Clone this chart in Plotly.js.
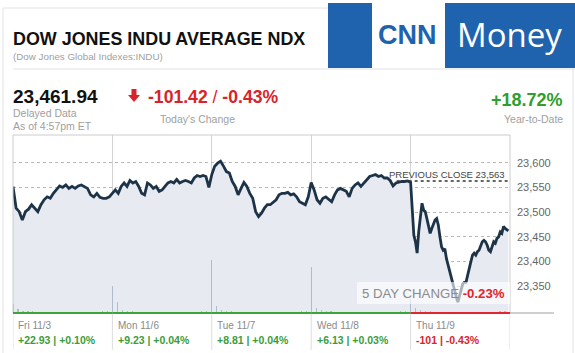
<!DOCTYPE html>
<html>
<head>
<meta charset="utf-8">
<script src="https://cdn.plot.ly/plotly-3.0.1.min.js"></script>
<style>
  html, body { margin: 0; padding: 0; background: #ffffff; }
  #chart { width: 575px; height: 353px; }
</style>
</head>
<body>
<div id="chart"></div>
<script>
// ---------------- DATA ----------------
const days = ['Fri 11/3', 'Mon 11/6', 'Tue 11/7', 'Wed 11/8', 'Thu 11/9'];
const dayChange = ['+22.93 | +0.10%', '+9.23 | +0.04%', '+8.81 | +0.04%', '+6.13 | +0.03%', '-101 | -0.43%'];

const priceFri = [23552, 23508, 23501, 23484, 23501, 23506, 23515, 23508, 23501, 23515, 23525, 23531, 23528, 23538, 23546, 23553,
  23550, 23555, 23548, 23552, 23548, 23553, 23555, 23552, 23548, 23535, 23531, 23538, 23530, 23528, 23528, 23531];
const priceMon = [23539, 23545, 23538, 23552, 23559, 23552, 23564, 23559, 23562, 23552, 23538, 23535, 23559, 23555, 23548, 23552,
  23542, 23545, 23552, 23559, 23562, 23559, 23566, 23559, 23562, 23564, 23562, 23559, 23569, 23574, 23572, 23574, 23572, 23550];
const priceTue = [23576, 23593, 23599, 23603, 23593, 23582, 23579, 23562, 23552, 23535, 23548, 23560, 23552, 23538, 23528, 23501,
  23491, 23498, 23508, 23515, 23515, 23521, 23525, 23535, 23538, 23538, 23540, 23535, 23537, 23531, 23521, 23518, 23515, 23531];
const priceWed = [23560, 23545, 23525, 23518, 23528, 23531, 23525, 23521, 23535, 23545, 23548, 23545, 23542, 23531, 23548, 23555,
  23559, 23552, 23559, 23566, 23572, 23574, 23576, 23572, 23574, 23569, 23569, 23564, 23553, 23559, 23561, 23562, 23562, 23563];
const priceThu = [23560, 23494, 23453, 23440, 23417, 23461, 23494, 23518, 23504, 23501, 23487, 23471, 23457, 23467, 23474, 23484,
  23487, 23474, 23450, 23430, 23423, 23426, 23406, 23393, 23379, 23362, 23349, 23338, 23329, 23318, 23331, 23341, 23355, 23358,
  23358, 23372, 23389, 23400, 23413, 23417, 23413, 23420, 23423, 23433, 23440, 23443, 23440, 23433, 23423, 23420, 23430, 23440,
  23437, 23447, 23450, 23460, 23457, 23471, 23467, 23464, 23462];

const volFri = [5, 2, 1, 1, 1, 0.8, 0.8, 0.8, 0.8, 0.8, 0.8, 0.8, 0.8, 0.8, 0.8, 0.8, 0.8, 0.8, 1, 1.2];
const volMon = [15, 6, 1.5, 1, 1, 0.8, 0.8, 0.8, 0.8, 0.8, 0.8, 0.8, 0.8, 0.8, 0.8, 0.8, 0.8, 0.8, 1, 1.2];
const volTue = [30, 4, 1.5, 1, 1, 0.8, 0.8, 0.8, 0.8, 0.8, 0.8, 0.8, 0.8, 0.8, 0.8, 0.8, 0.8, 0.8, 1, 1.2];
const volWed = [26, 3, 1.5, 1, 1, 0.8, 0.8, 0.8, 0.8, 0.8, 0.8, 0.8, 0.8, 0.8, 0.8, 0.8, 0.8, 0.8, 1, 1.2];
const volThu = [8, 3, 1.5, 1, 1, 0.8, 0.8, 0.8, 0.8, 0.8, 0.8, 0.8, 0.8, 0.8, 0.8, 0.8, 0.8, 0.8, 1, 1.2];

const prevClose = 23563;
const yTicks = [23350, 23400, 23450, 23500, 23550, 23600];

// ---------------- BUILD ----------------
const W = 575, H = 353;
const px = v => v / W;
const py = v => 1 - v / H;
const FONT = 'Liberation Sans, Arial, Helvetica, sans-serif';
const GREEN = '#2e9e2e', RED = '#d9232a', GRAY = '#9a9a9a', BLUE = '#1f63ae';

const priceDays = [priceFri, priceMon, priceTue, priceWed, priceThu];
const volDays = [volFri, volMon, volTue, volWed, volThu];

const px_ = [], py_ = [];
priceDays.forEach((arr, d) => arr.forEach((v, i) => { px_.push(d + i / arr.length); py_.push(v); }));
const vx = [], vy = [];
volDays.forEach((arr, d) => arr.forEach((v, i) => { vx.push(d + i / arr.length); vy.push(v); }));

const traces = [
  {
    type: 'scatter', mode: 'lines', x: px_, y: py_,
    line: { color: '#1d3347', width: 2.8 },
    fill: 'tozeroy', fillcolor: '#e7ebf1',
    hoverinfo: 'skip'
  },
  {
    type: 'bar', x: vx, y: vy, yaxis: 'y2', width: 0.012,
    marker: { color: '#aebccb', line: { width: 0 } },
    hoverinfo: 'skip'
  }
];

const shapes = [];
const annotations = [];

// outer card
shapes.push({ type: 'rect', xref: 'paper', yref: 'paper', x0: px(3), x1: px(573), y0: -0.05, y1: py(8),
  line: { color: '#e2e2e2', width: 1 }, fillcolor: 'rgba(0,0,0,0)', layer: 'below' });
// header separator
shapes.push({ type: 'line', xref: 'paper', yref: 'paper', x0: px(13), x1: px(575), y0: py(69), y1: py(69),
  line: { color: '#e2e2e2', width: 1 } });
// logo blocks
shapes.push({ type: 'rect', xref: 'paper', yref: 'paper', x0: px(328), x1: px(372), y0: py(68), y1: py(3),
  fillcolor: BLUE, line: { width: 0 } });
shapes.push({ type: 'rect', xref: 'paper', yref: 'paper', x0: px(372), x1: px(445), y0: py(68), y1: py(3),
  fillcolor: '#ffffff', line: { width: 0 } });
shapes.push({ type: 'rect', xref: 'paper', yref: 'paper', x0: px(445), x1: px(575), y0: py(68), y1: py(3),
  fillcolor: BLUE, line: { width: 0 } });
// red down arrow
shapes.push({ type: 'path', xref: 'paper', yref: 'paper',
  path: `M ${px(131.5)} ${py(89)} L ${px(136.5)} ${py(89)} L ${px(136.5)} ${py(95)} L ${px(140)} ${py(95)} L ${px(134)} ${py(102)} L ${px(128)} ${py(95)} L ${px(131.5)} ${py(95)} Z`,
  fillcolor: RED, line: { width: 0 } });

// plot frame
shapes.push({ type: 'rect', xref: 'x domain', yref: 'y domain', x0: 0, x1: 1, y0: 0, y1: 1,
  line: { color: '#cccccc', width: 1 }, fillcolor: 'rgba(0,0,0,0)', layer: 'above' });
// bottom day separators
for (let d = 0; d <= days.length; d++) {
  shapes.push({ type: 'line', xref: 'x', yref: 'paper', x0: d, x1: d, y0: py(313), y1: py(350),
    line: { color: '#dddddd', width: 1 } });
}
// gray baseline extension
shapes.push({ type: 'line', xref: 'paper', yref: 'paper', x0: px(510), x1: px(554), y0: py(313), y1: py(313),
  line: { color: '#a0a0a0', width: 1 }, layer: 'above' });
// green/red day baseline
days.forEach((d, i) => {
  const up = !dayChange[i].startsWith('-');
  shapes.push({ type: 'line', xref: 'x', yref: 'paper', x0: i, x1: i + 1, y0: py(313), y1: py(313),
    line: { color: up ? '#3aa63a' : '#e3262c', width: 2 }, layer: 'above' });
});
// previous close
shapes.push({ type: 'line', xref: 'x', yref: 'y', x0: 3.86, x1: 5, y0: prevClose, y1: prevClose,
  line: { color: '#333333', width: 1.3, dash: 'dot' }, layer: 'above' });
// 5 day change box
shapes.push({ type: 'rect', xref: 'paper', yref: 'paper', x0: px(357), x1: px(510), y0: py(304), y1: py(282),
  fillcolor: 'rgba(255,255,255,0.62)', line: { width: 0 }, layer: 'above' });

function ann(text, x, y, opts) {
  annotations.push(Object.assign({ text, x: px(x), y: py(y), xref: 'paper', yref: 'paper', showarrow: false,
    xanchor: 'left', yanchor: 'middle', borderpad: 0,
    font: { family: FONT, size: 11, color: GRAY } }, opts || {}));
}
ann('<b>DOW JONES INDU AVERAGE NDX</b>', 12, 39, { font: { family: FONT, size: 17.9, color: '#111111' } });
ann('(Dow Jones Global Indexes:INDU)', 12, 57, { font: { family: FONT, size: 9.8, color: '#a0a0a0' } });
ann('<b>23,461.94</b>', 12, 96, { font: { family: FONT, size: 19, color: '#111111' } });
ann('Delayed Data', 12, 113, { font: { family: FONT, size: 10.5, color: '#a0a0a0' } });
ann('As of 4:57pm ET', 12, 126, { font: { family: FONT, size: 10.5, color: '#a0a0a0' } });
ann('<b>-101.42</b> / <b>-0.43%</b>', 147, 97, { font: { family: FONT, size: 17.6, color: RED } });
ann("Today's Change", 159, 119, { font: { family: FONT, size: 10.5, color: '#a0a0a0' } });
ann('<b>+18.72%</b>', 564, 100, { xanchor: 'right', font: { family: FONT, size: 18, color: GREEN } });
ann('Year-to-Date', 564, 119, { xanchor: 'right', font: { family: FONT, size: 10.5, color: '#a0a0a0' } });
ann('<b>CNN</b>', 408, 35, { xanchor: 'center', font: { family: FONT, size: 27, color: BLUE } });
ann('Money', 509, 35, { xanchor: 'center', font: { family: 'Open Sans, ' + FONT, size: 33, color: '#ffffff' } });
ann('PREVIOUS CLOSE 23,563', 506, 174, { xanchor: 'right', font: { family: FONT, size: 9.5, color: '#444444' } });
ann('5 DAY CHANGE <span style="color:#e0242b"><b>-0.23%</b></span>', 506, 293,
  { xanchor: 'right', font: { family: FONT, size: 13.2, color: '#8a8a8a' } });

days.forEach((d, i) => {
  annotations.push({ text: d, x: i + 0.045, y: py(325), xref: 'x', yref: 'paper', showarrow: false,
    xanchor: 'left', yanchor: 'middle', borderpad: 0, font: { family: FONT, size: 10, color: '#8a8a8a' } });
  const up = !dayChange[i].startsWith('-');
  annotations.push({ text: '<b>' + dayChange[i] + '</b>', x: i + 0.045, y: py(339.5), xref: 'x', yref: 'paper',
    showarrow: false, xanchor: 'left', yanchor: 'middle', borderpad: 0,
    font: { family: FONT, size: 10.5, color: up ? '#3a9d3a' : RED } });
});

const layout = {
  width: W, height: H,
  margin: { l: 0, r: 0, t: 0, b: 0, pad: 0 },
  paper_bgcolor: '#ffffff', plot_bgcolor: '#ffffff',
  showlegend: false,
  bargap: 0,
  xaxis: {
    domain: [px(13), px(510)], range: [0, 5], tick0: 0, dtick: 1,
    showgrid: true, gridcolor: '#d3d3d3', gridwidth: 1,
    showticklabels: false, ticks: '', zeroline: false, showline: false, fixedrange: true
  },
  yaxis: {
    domain: [1 - 313 / H, 1 - 135 / H], range: [23296, 23656],
    side: 'right', tickvals: yTicks, tickformat: ',d', ticks: '',
    ticklabelstandoff: 6,
    showgrid: true, gridcolor: '#b8b8b8', griddash: 'dot', gridwidth: 1,
    zeroline: false, showline: false, fixedrange: true,
    tickfont: { family: FONT, size: 11, color: '#666666' }
  },
  yaxis2: { overlaying: 'y', range: [0, 100], visible: false, fixedrange: true },
  shapes, annotations
};

Plotly.newPlot('chart', traces, layout, { displayModeBar: false, staticPlot: true });
</script>
</body>
</html>
